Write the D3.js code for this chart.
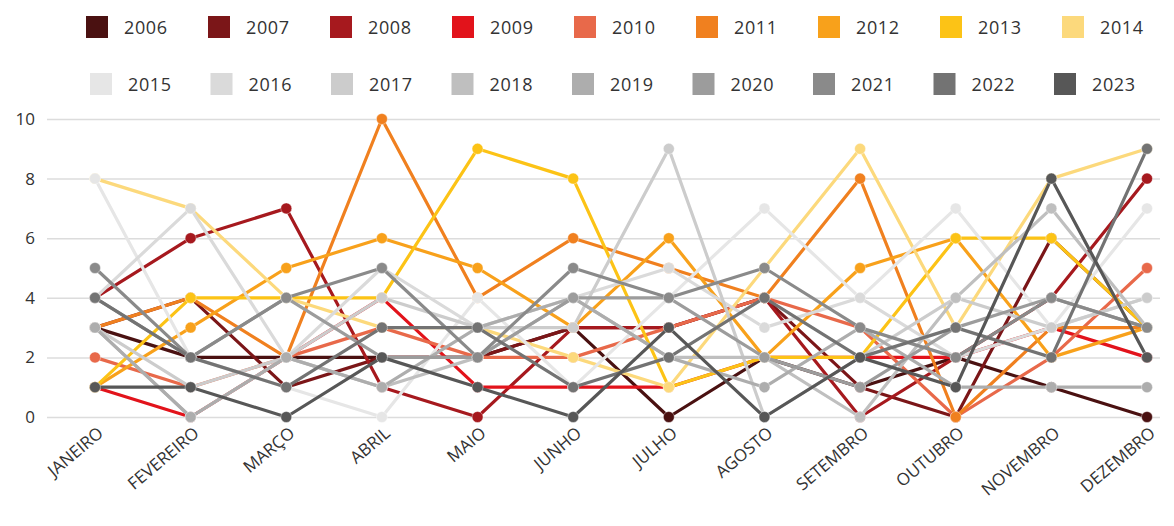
<!DOCTYPE html>
<html><head><meta charset="utf-8">
<script src="https://cdn.jsdelivr.net/npm/d3@7/dist/d3.min.js"></script>
<style>body{margin:0;background:#fff;font-family:"Open Sans",Lato,sans-serif;}</style>
</head><body><svg id="c" width="1174" height="526"></svg>
<script>
const months = ["JANEIRO","FEVEREIRO","MARÇO","ABRIL","MAIO","JUNHO","JULHO","AGOSTO","SETEMBRO","OUTUBRO","NOVEMBRO","DEZEMBRO"];
const years = ["2006","2007","2008","2009","2010","2011","2012","2013","2014","2015","2016","2017","2018","2019","2020","2021","2022","2023"];
const colors = ["#4a1111","#7b1618","#a6191e","#e2131b","#e8694a","#f0801f","#f8a11b","#fcc316","#fcd97c","#e6e6e6","#dadada","#cccccc","#bfbfbf","#adadad","#9c9c9c","#8a8a8a","#737373","#575757"];
const v2006 = [3,2,2,2,2,3,0,2,1,2,1,0];
const v2007 = [3,4,1,2,2,3,3,4,1,0,6,3];
const v2008 = [4,6,7,1,0,3,3,4,0,2,4,8];
const v2009 = [1,0,2,4,1,1,1,2,2,2,3,2];
const v2010 = [2,1,2,3,2,2,3,4,3,0,2,5];
const v2011 = [3,4,2,10,4,6,5,4,8,0,3,3];
const v2012 = [1,3,5,6,5,3,6,2,5,6,2,3];
const v2013 = [1,4,4,4,9,8,1,2,2,6,6,3];
const v2014 = [8,7,4,3,3,2,1,5,9,3,8,9];
const v2015 = [8,2,1,0,4,1,4,7,4,7,3,7];
const v2016 = [4,7,2,5,3,4,5,3,4,2,3,4];
const v2017 = [3,1,2,4,3,3,9,0,2,4,3,4];
const v2018 = [3,0,2,1,2,4,2,2,0,4,7,3];
const v2019 = [3,0,2,1,3,4,2,1,3,1,1,1];
const v2020 = [4,2,4,2,2,4,4,2,1,3,4,3];
const v2021 = [5,2,4,5,2,5,4,5,3,2,4,3];
const v2022 = [4,2,1,3,3,1,2,4,2,3,2,9];
const v2023 = [1,1,0,2,1,0,3,0,2,1,8,2];
const yTicks = [0,2,4,6,8,10];
const seriesValues = [v2006,v2007,v2008,v2009,v2010,v2011,v2012,v2013,v2014,v2015,v2016,v2017,v2018,v2019,v2020,v2021,v2022,v2023];
const series = years.map((y,i)=>({year:y,color:colors[i],values:seriesValues[i]}));

const svg = d3.select("#c");
const x = d3.scalePoint().domain(months).range([95,1147]);
const y = d3.scaleLinear().domain([0,10]).range([417,119]);
const FONT = "'Open Sans', Lato, sans-serif";

// grid
const yAxis = d3.axisLeft(y).tickValues(yTicks).tickSize(-(1160-47)).tickPadding(12);
const gy = svg.append("g").attr("transform","translate(47,0)").call(yAxis);
gy.select(".domain").remove();
gy.selectAll(".tick line").attr("stroke","#dcdcdc").attr("stroke-width",1.5);
gy.selectAll(".tick text").attr("fill","#333").style("font-size","17px").style("font-family",FONT);

// x axis
const xAxis = d3.axisBottom(x).tickSize(0).tickPadding(0);
const gx = svg.append("g").attr("transform","translate(0,417)").call(xAxis);
gx.select(".domain").remove();
gx.selectAll(".tick text").attr("fill","#333").style("font-size","17px").style("font-family",FONT)
  .attr("text-anchor","end").attr("dy","0").attr("transform","translate(9,18) rotate(-40)");

// lines
const line = d3.line().x((d,i)=>x(months[i])).y(d=>y(d));
const g = svg.append("g");
series.forEach(s=>{
  const sg = g.append("g");
  sg.append("path").datum(s.values).attr("d",line).attr("fill","none").attr("stroke",s.color).attr("stroke-width",3.2).attr("stroke-linejoin","round");
  sg.selectAll("circle").data(s.values).enter().append("circle")
    .attr("cx",(d,i)=>x(months[i])).attr("cy",d=>y(d)).attr("r",5.5)
    .attr("fill",s.color).attr("stroke","rgba(255,255,255,0.5)").attr("stroke-width",0.8);
});

// legend
const leg = svg.append("g");
series.forEach((s,i)=>{
  const row = i<9?0:1, col = i<9?i:i-9;
  const lx = row===0 ? 86+col*122 : 90+col*120.5;
  const ly = row===0 ? 16 : 73;
  leg.append("rect").attr("x",lx).attr("y",ly).attr("width",22).attr("height",22).attr("fill",s.color);
  leg.append("text").attr("x",lx+38).attr("y",ly+18).text(s.year).attr("fill","#333")
    .style("font-size","18px").style("letter-spacing","0.6px").style("font-family",FONT);
});
</script></body></html>
